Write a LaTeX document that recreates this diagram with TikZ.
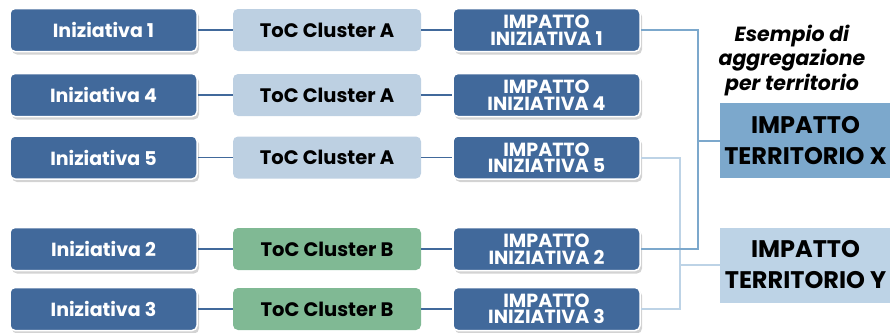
\documentclass[tikz,border=0pt]{standalone}
\usepackage{fontspec}
\setmainfont{Poppins}
\usetikzlibrary{shadows}
\definecolor{inizblue}{HTML}{41699B}
\definecolor{tocA}{HTML}{BDD0E2}
\definecolor{tocB}{HTML}{80B994}
\definecolor{terX}{HTML}{7CA8CC}
\definecolor{terY}{HTML}{BDD3E6}
\begin{document}
\begin{tikzpicture}[x=1pt,y=-1pt,
  basebox/.style={minimum width=187pt, minimum height=43pt, inner sep=0pt, align=center},
  initbox/.style={basebox, draw=white, line width=1.5pt, fill=inizblue, rounded corners=5pt,
    text=white, font=\bfseries\fontsize{19}{20}\selectfont,
    drop shadow={shadow xshift=2pt, shadow yshift=-3pt, opacity=0.35}},
  impbox/.style={initbox, font=\bfseries\fontsize{19}{16.5}\selectfont},
  tocbox/.style={basebox, minimum width=188pt, minimum height=42pt, rounded corners=5pt,
    font=\bfseries\fontsize{19.5}{20}\selectfont},
  terbox/.style={minimum width=171pt, minimum height=75pt, inner sep=0pt, align=center,
    font=\bfseries\fontsize{24}{31}\selectfont},
  link/.style={draw=inizblue, line width=1.8pt},
  linkx/.style={draw=terX, line width=2pt},
  linky/.style={draw=terY, line width=2pt}]
\useasboundingbox (0,0) rectangle (890,332);

% initiatives
\node[initbox] (i1) at (103.5,30) {Iniziativa 1};
\node[initbox] (i4) at (103.5,95) {Iniziativa 4};
\node[initbox] (i5) at (103.5,157.5) {Iniziativa 5};
\node[initbox] (i2) at (103.5,249) {Iniziativa 2};
\node[initbox] (i3) at (103.5,309) {Iniziativa 3};

% theories of change
\node[tocbox, fill=tocA] (t1) at (327,30) {ToC Cluster A};
\node[tocbox, fill=tocA] (t4) at (327,95) {ToC Cluster A};
\node[tocbox, fill=tocA] (t5) at (327,157.5) {ToC Cluster A};
\node[tocbox, fill=tocB] (t2) at (327,249) {ToC Cluster B};
\node[tocbox, fill=tocB] (t3) at (327,309) {ToC Cluster B};

% impacts per initiative
\node[impbox] (m1) at (546.5,30) {IMPATTO\\INIZIATIVA 1};
\node[impbox] (m4) at (546.5,95) {IMPATTO\\INIZIATIVA 4};
\node[impbox] (m5) at (546.5,157.5) {IMPATTO\\INIZIATIVA 5};
\node[impbox] (m2) at (546.5,249) {IMPATTO\\INIZIATIVA 2};
\node[impbox] (m3) at (546.5,309) {IMPATTO\\INIZIATIVA 3};

% territorial aggregation
\node[font=\bfseries\itshape\fontsize{20.5}{24.5}\selectfont, align=center] (cap) at (792,60.5)
  {Esempio di\\aggregazione\\per territorio};
\node[terbox, fill=terX] (tx) at (805.5,140.5) {IMPATTO\\TERRITORIO X};
\node[terbox, fill=terY] (ty) at (805.5,265) {IMPATTO\\TERRITORIO Y};

% row links
\foreach \r in {1,4,5,2,3} {
  \draw[link] (i\r) -- (t\r);
  \draw[link] (t\r) -- (m\r);
}

% aggregation links
\coordinate (jy) at (680,0);
\coordinate (jx) at (698,0);
\draw[linky] (m5.east) -| (jy |- m3.east) -- (m3.east);
\draw[linky] (ty.west) -- (jy |- ty.west);
\draw[linkx] (m1.east) -| (jx |- m2.east) -- (m2.east);
\draw[linkx] (tx.west) -- (jx |- tx.west);
\end{tikzpicture}
\end{document}
